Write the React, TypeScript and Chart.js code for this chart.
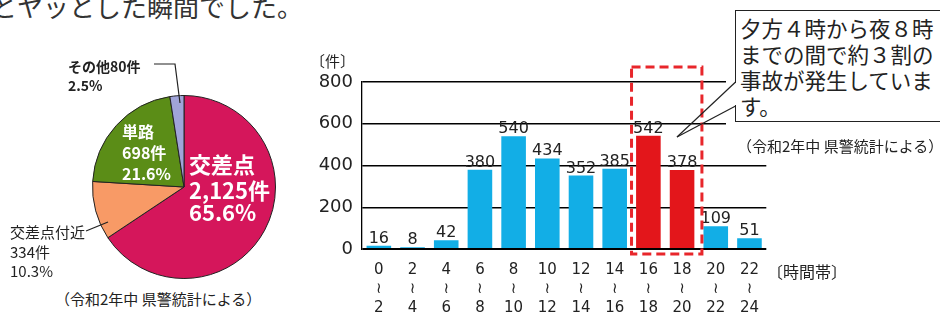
import React, { useEffect, useRef } from 'react';
import { Chart, registerables } from 'chart.js';

Chart.register(...registerables);

// ---- Pie data (場所別) ----
const pieLabels = ['交差点', '交差点付近', '単路', 'その他'];
const pieValues = [2125, 334, 698, 80];
const piePercents = ['65.6', '10.3', '21.6', '2.5'];
const pieColors = ['#D5165B', '#F89A66', '#5B8D17', '#A0A4D9'];

// ---- Bar data (時間帯別) ----
const hourStarts = ['0', '2', '4', '6', '8', '10', '12', '14', '16', '18', '20', '22'];
const hourEnds = ['2', '4', '6', '8', '10', '12', '14', '16', '18', '20', '22', '24'];
const accidents = [16, 8, 42, 380, 540, 434, 352, 385, 542, 378, 109, 51];
const highlighted = [8, 9];
const yTicks = [0, 200, 400, 600, 800];

const BLUE = '#12AEE6';
const RED = '#E3161B';
const INK = '#222';
const CJK = '"Noto Sans CJK JP", "Noto Sans CJK SC", sans-serif';

function T(props: { x: number; y: number; size: number; weight?: number; color?: string; lh?: number; children: any }) {
  const h = props.lh ?? Math.round(props.size * 1.25);
  return (
    <div
      style={{
        position: 'absolute',
        left: props.x,
        top: props.y - h / 2,
        fontSize: props.size,
        lineHeight: `${h}px`,
        fontWeight: props.weight ?? 400,
        color: props.color ?? INK,
        whiteSpace: 'nowrap',
        fontFamily: CJK,
      }}
    >
      {props.children}
    </div>
  );
}

export default function App() {
  const pieRef = useRef<HTMLCanvasElement | null>(null);
  const barRef = useRef<HTMLCanvasElement | null>(null);

  useEffect(() => {
    const pie = new Chart(pieRef.current!, {
      type: 'pie',
      data: {
        labels: pieLabels,
        datasets: [
          {
            data: pieValues,
            backgroundColor: pieColors,
            borderColor: '#222',
            borderWidth: 1,
          },
        ],
      },
      options: {
        responsive: false,
        animation: false,
        devicePixelRatio: 1,
        layout: { padding: 2 },
        plugins: { legend: { display: false }, tooltip: { enabled: false } },
      },
    });

    const valueLabels = {
      id: 'valueLabels',
      afterDatasetsDraw(chart: any) {
        const ctx = chart.ctx;
        const meta = chart.getDatasetMeta(0);
        ctx.save();
        ctx.font = '16px "DejaVu Sans"';
        ctx.fillStyle = INK;
        ctx.textAlign = 'center';
        ctx.textBaseline = 'alphabetic';
        meta.data.forEach((bar: any, i: number) => {
          ctx.fillText(String(accidents[i]), bar.x, bar.y - 3);
        });
        ctx.restore();
      },
    };

    const highlightBox = {
      id: 'highlightBox',
      afterDraw(chart: any) {
        const ctx = chart.ctx;
        const xs = chart.scales.x;
        const ys = chart.scales.y;
        const half = (xs.getPixelForValue(1) - xs.getPixelForValue(0)) / 2;
        const l = xs.getPixelForValue(highlighted[0]) - half;
        const r = xs.getPixelForValue(highlighted[highlighted.length - 1]) + half + 3;
        const t = ys.getPixelForValue(yTicks[yTicks.length - 1]) - 15;
        const b = ys.getPixelForValue(yTicks[0]) + 5;
        ctx.save();
        ctx.strokeStyle = '#E8262B';
        ctx.lineWidth = 3;
        ctx.setLineDash([9, 5]);
        ctx.strokeRect(l, t, r - l, b - t);
        ctx.restore();
      },
    };

    const bar = new Chart(barRef.current!, {
      type: 'bar',
      data: {
        labels: hourStarts.map((s, i) => [s, '≀', hourEnds[i]]),
        datasets: [
          {
            data: accidents,
            backgroundColor: accidents.map((_, i) => (highlighted.includes(i) ? RED : BLUE)),
            barPercentage: 0.73,
            categoryPercentage: 1,
          },
        ],
      },
      options: {
        responsive: false,
        animation: false,
        devicePixelRatio: 1,
        layout: { padding: { top: 32, right: 0, left: 0, bottom: 0 } },
        plugins: { legend: { display: false }, tooltip: { enabled: false } },
        scales: {
          x: {
            grid: { display: false, drawTicks: false },
            border: { display: false },
            ticks: {
              font: { family: 'DejaVu Sans', size: 15, lineHeight: '19px' },
              color: INK,
              padding: 12,
              maxRotation: 0,
              autoSkip: false,
            },
            afterFit: (s: any) => {
              s.height = 65;
            },
          },
          y: {
            min: yTicks[0],
            max: yTicks[yTicks.length - 1],
            ticks: {
              stepSize: yTicks[1] - yTicks[0],
              font: { family: 'DejaVu Sans', size: 18 },
              color: INK,
              padding: 9,
            },
            grid: {
              color: '#000',
              lineWidth: (c: any) => (c.tick && c.tick.value === 0 ? 2 : 1.4),
              drawTicks: false,
            },
            border: { display: true, color: '#000', width: 1.3 },
            afterFit: (s: any) => {
              s.width = 62;
            },
          },
        },
      },
      plugins: [valueLabels, highlightBox],
    });

    return () => {
      pie.destroy();
      bar.destroy();
    };
  }, []);

  return (
    <div
      style={{
        position: 'fixed',
        left: 0,
        top: 0,
        width: 940,
        height: 314,
        overflow: 'hidden',
        background: '#fff',
        fontFamily: CJK,
        color: INK,
      }}
    >
      {/* title fragment */}
      <div
        style={{
          position: 'absolute',
          left: -9,
          top: -7,
          fontSize: 26,
          lineHeight: '26px',
          color: '#333',
          whiteSpace: 'nowrap',
        }}
      >
        とヤッとした瞬間でした。
      </div>

      {/* pie */}
      <canvas
        ref={pieRef}
        width={188}
        height={188}
        style={{ position: 'absolute', left: 90, top: 93, width: 188, height: 188 }}
      />

      {/* bar */}
      <canvas
        ref={barRef}
        width={471}
        height={264}
        style={{ position: 'absolute', left: 300, top: 50, width: 471, height: 264 }}
      />

      {/* pie labels */}
      <T x={189} y={163} size={22} weight={700} color="#fff">{pieLabels[0]}</T>
      <T x={189} y={189} size={22} weight={700} color="#fff">{pieValues[0].toLocaleString()}件</T>
      <T x={189} y={211} size={22} weight={700} color="#fff">{piePercents[0]}%</T>

      <T x={122} y={131} size={16} weight={700} color="#fff">{pieLabels[2]}</T>
      <T x={122} y={152} size={16} weight={700} color="#fff">{pieValues[2]}件</T>
      <T x={122} y={173} size={16} weight={700} color="#fff">{piePercents[2]}%</T>

      <T x={68} y={66} size={14} weight={700}>{pieLabels[3]}{pieValues[3]}件</T>
      <T x={68} y={85} size={14} weight={700}>{piePercents[3]}%</T>

      <T x={10} y={231} size={15}>{pieLabels[1]}</T>
      <T x={10} y={251} size={15}>{pieValues[1]}件</T>
      <T x={10} y={270} size={15}>{piePercents[1]}%</T>

      <T x={55} y={298} size={15}>（令和2年中 県警統計による）</T>

      {/* bar chart texts */}
      <T x={310} y={60} size={15}>〔件〕</T>
      <T x={767} y={271} size={16}>〔時間帯〕</T>
      <T x={737} y={145} size={15}>（令和2年中 県警統計による）</T>

      {/* white cover behind callout */}
      <div style={{ position: 'absolute', left: 726, top: 72, width: 60, height: 58, background: '#fff' }} />

      {/* callout */}
      <div
        style={{
          position: 'absolute',
          left: 735,
          top: 10,
          width: 230,
          height: 112,
          boxSizing: 'border-box',
          border: '1.3px solid #222',
          background: '#fff',
          paddingLeft: 4,
          paddingTop: 4,
          fontSize: 21.5,
          lineHeight: '26px',
          whiteSpace: 'nowrap',
          fontFamily: CJK,
          color: INK,
        }}
      >
        夕方４時から夜８時
        <br />
        までの間で約３割の
        <br />
        事故が発生していま
        <br />
        す。
      </div>

      <svg
        width={940}
        height={314}
        style={{ position: 'absolute', left: 0, top: 0, pointerEvents: 'none' }}
      >
        <line x1={735.6} y1={83} x2={735.6} y2={105} stroke="#fff" strokeWidth={3} />
        <line x1={735.6} y1={82} x2={677} y2={137} stroke="#222" strokeWidth={1.2} />
        <line x1={735.6} y1={106} x2={677} y2={137} stroke="#222" strokeWidth={1.2} />
        <polyline points="154,64 175,64 180,103" fill="none" stroke="#222" strokeWidth={1.2} />
        <line x1={86} y1={231} x2={108} y2={222} stroke="#222" strokeWidth={1.2} />
      </svg>
    </div>
  );
}
